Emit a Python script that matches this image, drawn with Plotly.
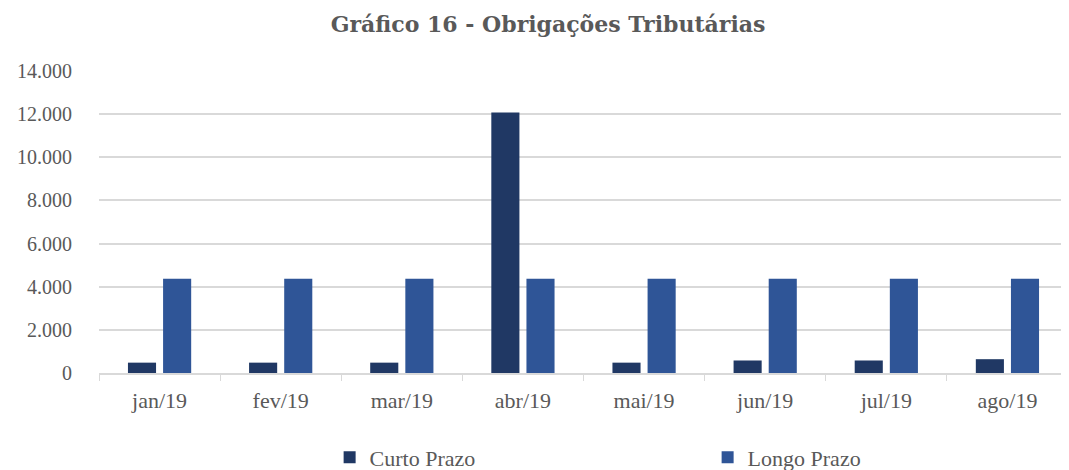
import plotly.graph_objects as go

categories = ["jan/19", "fev/19", "mar/19", "abr/19", "mai/19", "jun/19", "jul/19", "ago/19"]
curto_prazo = [480, 480, 480, 12080, 480, 580, 580, 640]
longo_prazo = [4370, 4370, 4370, 4370, 4370, 4370, 4370, 4370]
y_ticks = [0, 2000, 4000, 6000, 8000, 10000, 12000, 14000]

FONT = "Liberation Serif"
GRAY = "#595959"

fig = go.Figure()
fig.add_trace(go.Bar(name="Curto Prazo", x=categories, y=curto_prazo,
                     marker=dict(color="#203864", line=dict(width=0))))
fig.add_trace(go.Bar(name="Longo Prazo", x=categories, y=longo_prazo,
                     marker=dict(color="#2F5597", line=dict(width=0))))

fig.update_layout(
    width=1061, height=462,
    margin=dict(l=91, r=1, t=63, b=97, autoexpand=False),
    paper_bgcolor="white", plot_bgcolor="white",
    separators=",.",
    barmode="group", bargap=0.42, bargroupgap=0.2,
    title=dict(text="<b>Gráfico 16 - Obrigações Tributárias</b>",
               x=0.509, xanchor="center", y=0.965, yanchor="middle",
               font=dict(family="DejaVu Serif", size=22, color=GRAY)),
    font=dict(family=FONT, size=16, color=GRAY),
    showlegend=True,
    legend=dict(orientation="h", x=0.238, xanchor="left", y=-0.28, yanchor="middle",
                entrywidth=333, entrywidthmode="pixels",
                font=dict(family=FONT, size=22, color=GRAY),
                traceorder="normal"),
    xaxis=dict(showline=True, linecolor="#D9D9D9", linewidth=1.5,
               ticks="outside", tickson="boundaries", ticklen=6, tickcolor="#D9D9D9",
               ticklabelstandoff=7,
               tickfont=dict(family=FONT, size=22, color=GRAY), showgrid=False,
               automargin=False),
    yaxis=dict(range=[0, 14000], tickvals=y_ticks, tickformat=",d",
               showgrid=True, gridcolor="#D9D9D9", gridwidth=1.5,
               zeroline=False, ticks="", ticklabelstandoff=26, automargin=False,
               tickfont=dict(family=FONT, size=20, color=GRAY)),
)

fig.write_html("out.html")
